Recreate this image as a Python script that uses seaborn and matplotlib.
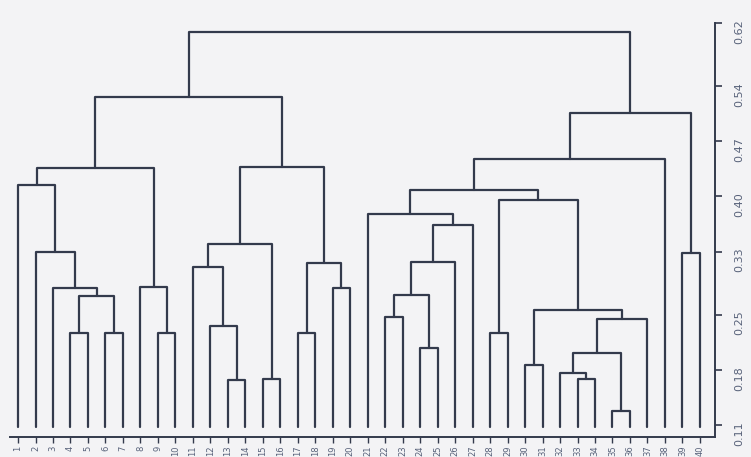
# dendrogram (scanned figure) redrawn with seaborn

import numpy as np
import pandas as pd
import matplotlib
matplotlib.use('Agg')
import matplotlib.pyplot as plt
import seaborn as sns

# leaf names in display order (unreadable on the scan)
leaf_labels = ['1', '2', '3', '4', '5', '6', '7', '8', '9', '10',
               '11', '12', '13', '14', '15', '16', '17', '18', '19', '20',
               '21', '22', '23', '24', '25', '26', '27', '28', '29', '30',
               '31', '32', '33', '34', '35', '36', '37', '38', '39', '40']

# merges: ids < 40 are leaves, id 40+k is the cluster made by merge k
merge_pairs = [(3, 4), (5, 6), (40, 41), (2, 42), (1, 43), (0, 44),
               (8, 9), (7, 46), (45, 47),
               (12, 13), (11, 49), (10, 50), (14, 15), (51, 52),
               (16, 17), (18, 19), (54, 55), (53, 56), (48, 57),
               (21, 22), (23, 24), (59, 60), (61, 25), (62, 26), (20, 63),
               (27, 28), (29, 30), (32, 33), (31, 67), (34, 35), (68, 69),
               (70, 36), (66, 71), (65, 72), (64, 73), (74, 37),
               (38, 39), (75, 76), (58, 77)]
merge_heights = [0.227, 0.227, 0.274, 0.284, 0.329, 0.414,
                 0.227, 0.285, 0.436,
                 0.167, 0.236, 0.310, 0.168, 0.340,
                 0.227, 0.284, 0.316, 0.437, 0.526,
                 0.247, 0.208, 0.275, 0.317, 0.364, 0.378,
                 0.227, 0.186, 0.168, 0.176, 0.128, 0.201,
                 0.244, 0.256, 0.395, 0.408, 0.447,
                 0.328, 0.506, 0.609]

leaf_base = 0.108
y_ticks = [0.11, 0.18, 0.25, 0.33, 0.40, 0.47, 0.54, 0.62]

# build the U shaped links
n = len(leaf_labels)
pos = {i: float(i) for i in range(n)}
top = {i: leaf_base for i in range(n)}
rows = []
for k, ((a, b), h) in enumerate(zip(merge_pairs, merge_heights)):
    nid = n + k
    for (x, y) in [(pos[a], top[a]), (pos[a], h), (pos[b], h), (pos[b], top[b])]:
        rows.append({'link': nid, 'x': x, 'y': y})
    pos[nid] = (pos[a] + pos[b]) / 2
    top[nid] = h
links = pd.DataFrame(rows)

sns.set_theme(style='white')
plt.rcParams['font.family'] = ['DejaVu Sans']

paper = '#f3f3f5'
ink = '#333a4c'

fig = plt.figure(figsize=(7.51, 4.57), dpi=100, facecolor=paper)
ax = fig.add_axes([0.0133, 0.0438, 0.9387, 0.906])
ax.set_facecolor(paper)

sns.lineplot(data=links, x='x', y='y', units='link', estimator=None,
             sort=False, color=ink, linewidth=1.6, legend=False, ax=ax)

ax.set_xlim(-0.46, 39.86)
ax.set_ylim(0.095, 0.62)
ax.set_xlabel('')
ax.set_ylabel('')

for side in ['left', 'top']:
    ax.spines[side].set_visible(False)
for side in ['right', 'bottom']:
    ax.spines[side].set_color(ink)
    ax.spines[side].set_linewidth(1.4)

ax.yaxis.tick_right()
ax.set_yticks(y_ticks)
ax.set_yticklabels(['%.2f' % v for v in y_ticks])
ax.tick_params(axis='y', direction='out', length=5, width=1.2, color=ink,
               labelcolor='#58627a', labelsize=8, labelrotation=90, pad=9)

ax.set_xticks(range(n))
ax.set_xticklabels(leaf_labels)
ax.tick_params(axis='x', bottom=True, direction='out', length=4, width=1.0,
               color=ink, labelcolor='#58627a', labelsize=6,
               labelrotation=90, pad=2)

fig.savefig('out.png', dpi=100, facecolor=paper)
